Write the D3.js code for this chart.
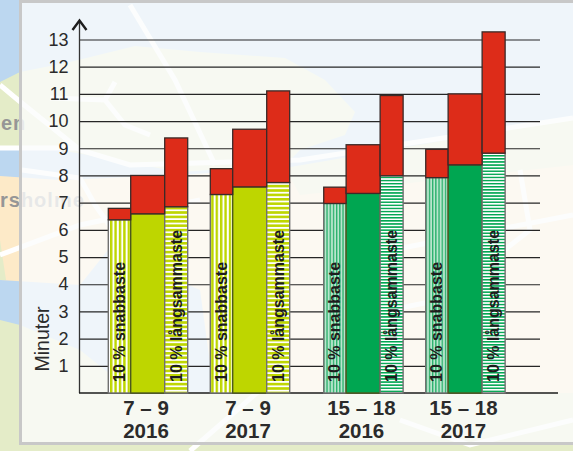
<!DOCTYPE html>
<html>
<head>
<meta charset="utf-8">
<script src="https://cdn.jsdelivr.net/npm/d3@7"></script>
<style>
  html, body { margin: 0; padding: 0; background: #fff; overflow: hidden; }
  text { font-family: "Liberation Sans", Arial, sans-serif; }
</style>
</head>
<body>
<div id="chart"></div>
<script>
//Colores fijos
const COLOR_RED = '#dd2c19',
  COLOR_LIME = '#bed600',
  COLOR_GREEN = '#00a651',
  COLOR_GREEN_PALE = '#b9e5cd',
  COLOR_TEXT = '#2b2b2b',
  COLOR_LINE = '#262626';

//Datos
const groupLabels = ['7 – 9', '7 – 9', '15 – 18', '15 – 18'];
const yearLabels = ['2016', '2017', '2016', '2017'];
const groupPos = [0, 1, 2.112, 3.112];
const barKeys = ['snabb', 'mitt', 'langsam'];
const barLabels = ['10 % snabbaste', '', '10 % långsammaste'];
const tickValues = [1, 2, 3, 4, 5, 6, 7, 8, 9, 10, 11, 12, 13];
// undre delen och hela stapeln, per grupp
const lowerSnabb = [6.37, 7.30, 6.97, 7.92];
const totalSnabb = [6.79, 8.25, 7.57, 8.96];
const lowerMitt = [6.59, 7.58, 7.34, 8.39];
const totalMitt = [8.00, 9.70, 9.13, 11.00];
const lowerLangsam = [6.85, 7.74, 7.99, 8.82];
const totalLangsam = [9.38, 11.11, 10.94, 13.28];

const lower = [lowerSnabb, lowerMitt, lowerLangsam];
const total = [totalSnabb, totalMitt, totalLangsam];

let svg = d3.select('#chart').append('svg')
  .attr('width', 573)
  .attr('height', 451)
  .style('display', 'block');

let defs = svg.append('defs');

function stripes(id, w, h, base, line, vertical, part) {
  let p = defs.append('pattern')
    .attr('id', id)
    .attr('patternUnits', 'userSpaceOnUse')
    .attr('width', w)
    .attr('height', h);
  p.append('rect').attr('width', w).attr('height', h).attr('fill', base);
  p.append('rect')
    .attr('width', vertical ? part : w)
    .attr('height', vertical ? h : part)
    .attr('fill', line);
}

stripes('limeV', 4.4, 4, '#ffffff', COLOR_LIME, true, 2.4);
stripes('limeH', 4, 4.4, '#ffffff', COLOR_LIME, false, 2.6);
stripes('greenV', 3.2, 4, COLOR_GREEN_PALE, '#27b06a', true, 1.3);
stripes('greenH', 4, 3.1, '#ffffff', COLOR_GREEN, false, 1.5);

//Bakgrundskarta
let map = svg.append('g');
map.append('rect').attr('width', 573).attr('height', 451).attr('fill', '#bcd7f0');
const landPaths = [
  'M0,82 L20,72 L70,62 L135,46 L200,52 L285,58 L325,80 L355,112 L345,135 L300,150 L285,165 L180,172 L60,150 L0,146 Z',
  'M573,117 L435,150 L285,168 L180,175 L60,180 L0,176 L0,280 L80,285 L108,250 L200,290 L215,400 L573,400 Z',
  'M573,117 L435,142 L285,168 L300,195 L573,165 Z',
  'M0,240 L6,280 L0,280 Z',
  'M0,320 L20,325 L80,350 L130,390 L215,393 L573,393 L573,451 L0,451 Z'
];
const landColors = ['#e4ecc8', '#fdeac8', '#e4ecc8', '#e4ecc8', '#e4ecc8'];
map.selectAll('path.land').data(landPaths).enter().append('path')
  .attr('class', 'land').attr('d', d => d)
  .attr('fill', (d, i) => landColors[i]);
const roadPaths = [
  'M130,5 L175,80 L215,165',
  'M0,85 L18,100 L80,150 L130,165 L300,160 L573,118',
  'M0,148 L80,148',
  'M50,98 L105,100 L115,82 M105,100 L125,125 L150,135',
  'M22,170 L80,178 L95,205 L120,240',
  'M0,255 L80,225 L200,200',
  'M190,451 L260,390',
  'M520,170 L530,230 L440,300 L340,320',
  'M573,215 L340,260',
  'M400,420 L470,445 L573,420'
];
map.selectAll('path.road').data(roadPaths).enter().append('path')
  .attr('class', 'road').attr('d', d => d)
  .attr('fill', 'none').attr('stroke', '#ffffff').attr('stroke-width', 5);

map.append('text').attr('x', 1).attr('y', 130)
  .attr('font-size', 20).attr('font-weight', 'bold').attr('fill', '#969696')
  .attr('letter-spacing', 1).text('en');
map.append('text').attr('x', 0).attr('y', 207)
  .attr('font-size', 20).attr('font-weight', 'bold').attr('fill', '#969696')
  .attr('letter-spacing', 1).text('rsholme');

//Panel
svg.append('rect')
  .attr('x', 20.5).attr('y', 1.5)
  .attr('width', 570).attr('height', 442)
  .attr('fill', '#fbfcfc').attr('fill-opacity', 0.8)
  .attr('stroke', '#c8c8c8').attr('stroke-width', 3);

//Escalas
let y = d3.scaleLinear().domain([0, 13]).range([393, 39.5]);
let x = d3.scaleLinear().domain([0, 1]).range([108.3, 210.3]);
let barEdge = d3.scaleLinear().domain([0, 1, 2, 3]).range([0, 22.4, 56.4, 79.4]);

//Eje y y rejilla
let yAxis = svg.append('g')
  .attr('transform', 'translate(79.5,0)')
  .call(d3.axisLeft(y).tickValues(tickValues).tickSize(0).tickPadding(11).tickFormat(d3.format('d')));
yAxis.select('.domain').remove();
yAxis.selectAll('text')
  .attr('font-size', 18)
  .attr('font-family', '"Liberation Sans", Arial, sans-serif')
  .attr('fill', COLOR_TEXT);
yAxis.selectAll('line')
  .attr('x2', 460.5)
  .attr('stroke', COLOR_LINE)
  .attr('stroke-width', 1.2);

svg.append('line')
  .attr('x1', 79.5).attr('x2', 79.5)
  .attr('y1', y(0)).attr('y2', 21)
  .attr('stroke', '#333').attr('stroke-width', 1.3);
svg.append('path')
  .attr('d', d3.line()([[72.5, 30], [79.5, 20.5], [86.5, 30]]))
  .attr('fill', 'none').attr('stroke', '#1d1d1d').attr('stroke-width', 2.4);
svg.append('line')
  .attr('x1', 79).attr('x2', 558)
  .attr('y1', y(0)).attr('y2', y(0))
  .attr('stroke', '#1d1d1d').attr('stroke-width', 1.4);

svg.append('text')
  .attr('transform', 'translate(49,339) rotate(-90)')
  .attr('text-anchor', 'middle')
  .attr('font-size', 19.5)
  .attr('fill', COLOR_TEXT)
  .text('Minuter');

//Barras
function lowerFill(g, k) {
  let lime = g < 2;
  if (k === 1) return lime ? COLOR_LIME : COLOR_GREEN;
  if (k === 0) return lime ? 'url(#limeV)' : 'url(#greenV)';
  return lime ? 'url(#limeH)' : 'url(#greenH)';
}

let bars = [];
groupPos.forEach(function(p, g) {
  barKeys.forEach(function(key, k) {
    bars.push({ g: g, k: k, key: key, p: p, low: lower[k][g], top: total[k][g] });
  });
});

let barG = svg.append('g');
barG.selectAll('rect.low').data(bars).enter().append('rect')
  .attr('class', 'low')
  .attr('x', d => x(d.p) + barEdge(d.k))
  .attr('width', d => barEdge(d.k + 1) - barEdge(d.k))
  .attr('y', d => y(d.low))
  .attr('height', d => y(0) - y(d.low))
  .attr('fill', d => lowerFill(d.g, d.k))
  .attr('stroke', d => d.k === 1 ? '#4d5a1c' : '#707070')
  .attr('stroke-width', 1.4);
barG.selectAll('rect.top').data(bars).enter().append('rect')
  .attr('class', 'top')
  .attr('x', d => x(d.p) + barEdge(d.k))
  .attr('width', d => barEdge(d.k + 1) - barEdge(d.k))
  .attr('y', d => y(d.top))
  .attr('height', d => y(d.low) - y(d.top))
  .attr('fill', COLOR_RED)
  .attr('stroke', '#3a2a28')
  .attr('stroke-width', 1.3);

//Textos de barras
barG.selectAll('text.barlabel').data(bars.filter(d => d.k !== 1)).enter().append('text')
  .attr('class', 'barlabel')
  .attr('transform', d => 'translate(' + (x(d.p) + (barEdge(d.k) + barEdge(d.k + 1)) / 2 + 5.5) + ',382) rotate(-90)')
  .attr('font-size', 16)
  .attr('font-weight', 'bold')
  .attr('fill', '#1d1d1d')
  .text(d => barLabels[d.k]);

//Etiquetas de grupos
let cat = svg.append('g').selectAll('g').data(groupPos).enter().append('g')
  .attr('transform', d => 'translate(' + (x(d) + barEdge(3) / 2 - 2) + ',0)');
cat.append('text')
  .attr('y', 415).attr('text-anchor', 'middle')
  .attr('font-size', 20.5).attr('font-weight', 'bold').attr('fill', COLOR_TEXT)
  .text((d, i) => groupLabels[i]);
cat.append('text')
  .attr('y', 437.5).attr('text-anchor', 'middle')
  .attr('font-size', 20.5).attr('font-weight', 'bold').attr('fill', COLOR_TEXT)
  .text((d, i) => yearLabels[i]);
</script>
</body>
</html>
